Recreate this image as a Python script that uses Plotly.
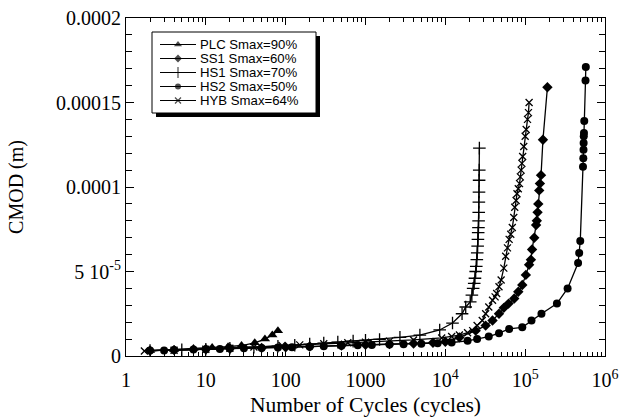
import numpy as np
import plotly.graph_objects as go

S = 1e-5  # values below are in units of 1e-5 m

plc_n = [2, 4, 7, 12, 19, 28, 41, 55, 68, 80]
plc_y = [0.32, 0.38, 0.45, 0.5, 0.55, 0.62, 0.78, 1.0, 1.24, 1.5]

ss1_n = [2, 4, 10, 20, 50, 100, 200, 500, 1000, 2000, 4000, 7000, 10000, 15000,
         24000, 32000, 39000, 47000, 54000, 62000, 73000, 82000, 92000, 102000,
         112000, 118000, 122000, 130000, 137000, 140000, 143000, 146000, 150000,
         153000, 158000, 167000, 190000]
ss1_y = [0.32, 0.35, 0.40, 0.44, 0.48, 0.52, 0.56, 0.62, 0.66, 0.70, 0.74, 0.78,
         0.84, 1.1, 1.5, 1.8, 2.1, 2.5, 2.85, 3.1, 3.4, 3.8, 4.2, 4.8,
         5.4, 5.7, 6.3, 7.0, 7.75, 8.0, 8.5, 9.0, 9.8,
         10.2, 10.7, 12.8, 15.9]

hs1_n = [2, 5, 10, 20, 40, 80, 130, 200, 300, 450, 700, 1000, 1500, 2700, 4800,
         8500, 12300, 16200, 18000, 20500, 21500, 22300, 23000, 23500, 24000,
         24400, 24800, 25100, 25400, 25600, 25800, 26000, 26100, 26200, 26300,
         26400, 26500, 26600, 26700]
hs1_y = [0.32, 0.36, 0.40, 0.46, 0.52, 0.58, 0.64, 0.70, 0.76, 0.82, 0.88, 0.93,
         0.98, 1.1, 1.24, 1.54, 1.95, 2.5, 2.9, 3.2, 3.6, 4.0, 4.3, 4.6, 5.0,
         5.3, 5.7, 6.1, 6.5, 6.9, 7.3, 7.6, 8.0, 8.5, 9.1, 9.7, 10.4, 11.0, 12.3]

hs2_n = [2, 3, 4, 7, 10, 15, 20, 30, 50, 80, 120, 200, 300, 500, 800, 1200, 2000,
         3000, 5000, 8000, 12000, 19000, 25000, 35000, 47000, 63000, 92000,
         120000, 160000, 250000, 340000, 460000, 475000, 490000, 530000, 535000,
         538000, 540000, 542000, 545000, 550000, 570000, 575000]
hs2_y = [0.32, 0.33, 0.35, 0.38, 0.40, 0.42, 0.44, 0.46, 0.48, 0.50, 0.52, 0.55,
         0.58, 0.60, 0.63, 0.65, 0.68, 0.70, 0.72, 0.75, 0.8, 0.9, 1.0, 1.15,
         1.35, 1.6, 1.7, 2.1, 2.5, 3.1, 4.0, 5.5, 6.1, 6.8, 11.2, 11.7, 12.2,
         12.6, 13.0, 13.2, 13.9, 16.3, 17.1]

hyb_n = [1.7, 4, 10, 20, 40, 90, 150, 300, 600, 1000, 2000, 4000, 9000, 12000,
         15000, 19000, 22000, 25000, 29000, 32000, 35000, 39000, 42000, 44000,
         47000, 50000, 54000, 57000, 60000, 63000, 66000, 69000, 72000, 74000,
         77000, 79000, 82000, 85000, 87000, 89000, 91000, 93000, 96000, 100000,
         103000, 107000, 110000, 112000]
hyb_y = [0.30, 0.34, 0.40, 0.46, 0.53, 0.62, 0.66, 0.72, 0.78, 0.82, 0.88, 0.95,
         1.07, 1.15, 1.24, 1.38, 1.5, 1.8, 2.1, 2.5, 2.9, 3.3, 3.5, 3.7,
         4.1, 4.5, 5.2, 5.9, 6.4, 6.9, 7.2, 7.6, 8.2, 8.8,
         9.2, 9.6, 9.9, 10.2, 10.6, 11.0, 11.4, 11.8, 12.4, 13.0,
         13.4, 14.0, 14.4, 15.0]

labels = ["PLC Smax=90%", "SS1 Smax=60%", "HS1 Smax=70%", "HS2 Smax=50%", "HYB Smax=64%"]
xs = [plc_n, ss1_n, hs1_n, hs2_n, hyb_n]
ys = [plc_y, ss1_y, hs1_y, hs2_y, hyb_y]
symbols = ["triangle-up", "diamond", "cross-thin", "circle", "x-thin"]
sizes = [9, 8, 9, 8, 7]
legend_sizes = [7, 6, 8, 6, 6]

W, H = 631, 420
ML, MR, MT, MB = 126, 26, 18, 64
PW, PH = W - ML - MR, H - MT - MB


def px(xpix):
    return (xpix - ML) / PW


def py(ypix):
    return (H - MB - ypix) / PH


fig = go.Figure()
for name, n, y, sym, sz in zip(labels, xs, ys, symbols, sizes):
    thin = sym in ("cross-thin", "x-thin")
    fig.add_trace(go.Scatter(
        x=n, y=np.array(y) * S, mode="lines+markers", name=name,
        showlegend=False,
        line=dict(color="black", width=1.3),
        marker=dict(symbol=sym, size=sz, color="black",
                    line=dict(color="black", width=1.3 if thin else 0)),
    ))

# ---- hand-drawn legend (box with drop shadow, samples, labels) ----
box_l, box_r, box_t, box_b = 152, 316, 32, 113
sh = 4
fig.add_shape(type="rect", xref="paper", yref="paper",
              x0=px(box_l), x1=px(box_r), y0=py(box_b), y1=py(box_t),
              fillcolor="white", line=dict(color="black", width=1), layer="below")
# shadow strips (right and bottom)
fig.add_shape(type="rect", xref="paper", yref="paper",
              x0=px(box_r), x1=px(box_r + sh), y0=py(box_b + sh), y1=py(box_t + sh),
              fillcolor="black", line=dict(width=0), layer="above")
fig.add_shape(type="rect", xref="paper", yref="paper",
              x0=px(box_l + sh), x1=px(box_r + sh), y0=py(box_b + sh), y1=py(box_b),
              fillcolor="black", line=dict(width=0), layer="above")
row_y = [44.5, 58.5, 72.5, 86.5, 100.5]
for name, sym, lsz, ry in zip(labels, symbols, legend_sizes, row_y):
    thin = sym in ("cross-thin", "x-thin")
    fig.add_trace(go.Scatter(
        x=[px(160), px(178), px(196)], y=[py(ry)] * 3,
        xaxis="x2", yaxis="y2", mode="lines+markers", showlegend=False,
        hoverinfo="skip", line=dict(color="black", width=1.2),
        marker=dict(symbol=sym, size=[0, lsz, 0], color="black",
                    line=dict(color="black", width=1.2 if thin else 0)),
    ))
    fig.add_annotation(text=name, xref="paper", yref="paper",
                       x=px(199), y=py(ry), xanchor="left", yanchor="middle",
                       showarrow=False, borderpad=0,
                       font=dict(family="Liberation Sans, Arial, sans-serif",
                                 size=13.2, color="black"))

x_tickvals = [1, 10, 100, 1000, 1e4, 1e5, 1e6]
x_ticktext = ["1", "10", "100", "1000", "10<sup>4</sup>", "10<sup>5</sup>", "10<sup>6</sup>"]
x_minor = [m * 10 ** k for k in range(0, 6) for m in range(2, 10)]
y_tickvals = [0, 5e-5, 1e-4, 1.5e-4, 2e-4]
y_ticktext = ["0", "5 10<sup>-5</sup>", "0.0001", "0.00015", "0.0002"]

serif = "Liberation Serif, Times New Roman, serif"
fig.update_layout(
    width=W, height=H,
    margin=dict(l=ML, r=MR, t=MT, b=MB, autoexpand=False),
    paper_bgcolor="white", plot_bgcolor="rgba(0,0,0,0)",
    font=dict(family=serif, size=20, color="black"),
    showlegend=False,
    xaxis=dict(type="log", range=[0, 6], tickmode="array",
               tickvals=x_tickvals, ticktext=x_ticktext, automargin=False,
               ticks="inside", ticklen=7, tickwidth=1, tickcolor="black",
               ticklabelstandoff=6,
               showline=True, linecolor="black", linewidth=1, mirror="ticks",
               showgrid=False, zeroline=False,
               minor=dict(tickmode="array", tickvals=x_minor, ticks="inside",
                          ticklen=4, tickcolor="black", showgrid=False),
               title=dict(text="Number of Cycles (cycles)", standoff=6,
                          font=dict(size=21.5))),
    yaxis=dict(range=[0, 2e-4], tickmode="array",
               tickvals=y_tickvals, ticktext=y_ticktext, automargin=False,
               ticks="inside", ticklen=8, tickwidth=1, tickcolor="black",
               showline=True, linecolor="black", linewidth=1, mirror="ticks",
               showgrid=False, zeroline=False,
               minor=dict(dtick=1e-5, ticks="inside", ticklen=6,
                          tickcolor="black", showgrid=False),
               title=dict(text="CMOD (m)", standoff=27, font=dict(size=20))),
    xaxis2=dict(overlaying="x", range=[0, 1], visible=False, fixedrange=True),
    yaxis2=dict(overlaying="y", range=[0, 1], visible=False, fixedrange=True),
)

fig.write_html("out.html")
